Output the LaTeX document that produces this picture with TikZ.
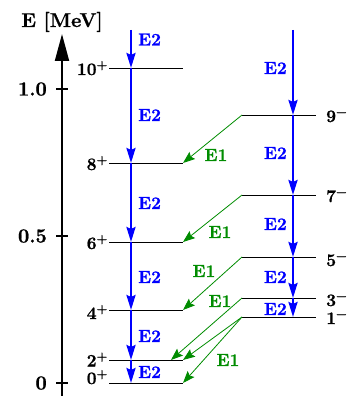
\documentclass[tikz,border=0pt]{standalone}
\usepackage{fontspec}
\setmainfont{Latin Modern Roman}[BoldFeatures={FakeBold=1}]
\usetikzlibrary{arrows.meta}
\definecolor{egreen}{RGB}{0,140,0}
\newcommand{\supp}{\textsuperscript{+}}
\newcommand{\supm}{\textsuperscript{\char"2212}}
\begin{document}
\begin{tikzpicture}[x=1pt,y=-1pt,
  lvl/.style={line width=0.8pt},
  e2/.style={blue,line width=2.5pt,-{Stealth[length=15pt,width=9pt,inset=2pt]}},
  e1/.style={egreen,line width=0.8pt,-{Stealth[length=12pt,width=9pt,inset=2pt]}},
  lab/.style={font=\fontsize{17.5}{20}\selectfont\bfseries,inner sep=0pt},
  axlab/.style={font=\fontsize{20}{24}\selectfont\bfseries,inner sep=0pt},
  e2lab/.style={lab,text=blue},
  e1lab/.style={lab,text=egreen}]
\useasboundingbox (0,0) rectangle (348,396);
% axis
\coordinate (axb) at (62,396);
\coordinate (axt) at (62,34);
\draw[line width=2pt,-{Triangle[length=27pt,width=14pt]}] (axb) -- (axt);
\foreach \yy/\tt in {89/1.0,236/0.5,383/0}{
  \draw[line width=2pt] (56,\yy) -- (68,\yy);
  \node[axlab,anchor=base east] at (47,\yy+6.5) {\tt};
}
\node[axlab,anchor=base] (etitle) at (62,27) {E [MeV]};
% left levels
\foreach \n/\yy in {10/68,8/163,6/242,4/310,2/360,0/383}{
  \coordinate (L\n a) at (109,\yy);
  \coordinate (L\n b) at (183,\yy);
  \coordinate (L\n m) at (131,\yy);
  \draw[lvl] (L\n a) -- (L\n b);
}
% right levels
\foreach \n/\yy in {9/115,7/195,5/257,3/298,1/317}{
  \coordinate (R\n a) at (242,\yy);
  \coordinate (R\n b) at (316,\yy);
  \coordinate (R\n m) at (293,\yy);
  \draw[lvl] (R\n a) -- (R\n b);
}
% level labels
\node[lab,anchor=base east] (l10) at (108,75) {10\supp};
\node[lab,anchor=base east] (l8) at (108,170) {8\supp};
\node[lab,anchor=base east] (l6) at (108,249) {6\supp};
\node[lab,anchor=base east] (l4) at (108,319) {4\supp};
\node[lab,anchor=base east] (l2) at (108,366.5) {2\supp};
\node[lab,anchor=base east] (l0) at (108,384) {0\supp};
\node[lab,anchor=base west] (r9) at (326,122) {9\supm};
\node[lab,anchor=base west] (r7) at (326,202) {7\supm};
\node[lab,anchor=base west] (r5) at (326,266) {5\supm};
\node[lab,anchor=base west] (r3) at (326,306) {3\supm};
\node[lab,anchor=base west] (r1) at (326,324) {1\supm};
% E2 left
\coordinate (Ltop) at (131,30);
\draw[e2] (Ltop) -- (L10m);
\draw[e2] (L10m) -- (L8m);
\draw[e2] (L8m) -- (L6m);
\draw[e2] (L6m) -- (L4m);
\draw[e2] (L4m) -- (L2m);
\draw[e2] (L2m) -- (L0m);
\foreach \yy in {39.5,115,203,277,336,372}
  \node[e2lab,anchor=west] at (138,\yy) {E2};
% E2 right
\coordinate (Rtop) at (293,30);
\draw[e2] (Rtop) -- (R9m);
\draw[e2] (R9m) -- (R7m);
\draw[e2] (R7m) -- (R5m);
\draw[e2] (R5m) -- (R3m);
\draw[e2] (R3m) -- (R1m);
\foreach \yy in {68,153,224,277,309}
  \node[e2lab,anchor=east] at (287,\yy) {E2};
% E1
\coordinate (L2c) at (171,360);
\draw[e1] (R9a) -- (L8b);
\draw[e1] (R7a) -- (L6b);
\draw[e1] (R5a) -- (L4b);
\draw[e1] (R3a) -- (L2c);
\draw[e1] (R1a) -- (L2b);
\draw[e1] (R1a) -- (L0b);
\node[e1lab] at (216,155) {E1};
\node[e1lab] at (220,232) {E1};
\node[e1lab] at (204,271) {E1};
\node[e1lab] at (220,301) {E1};
\node[e1lab] at (228,360) {E1};
\end{tikzpicture}
\end{document}
